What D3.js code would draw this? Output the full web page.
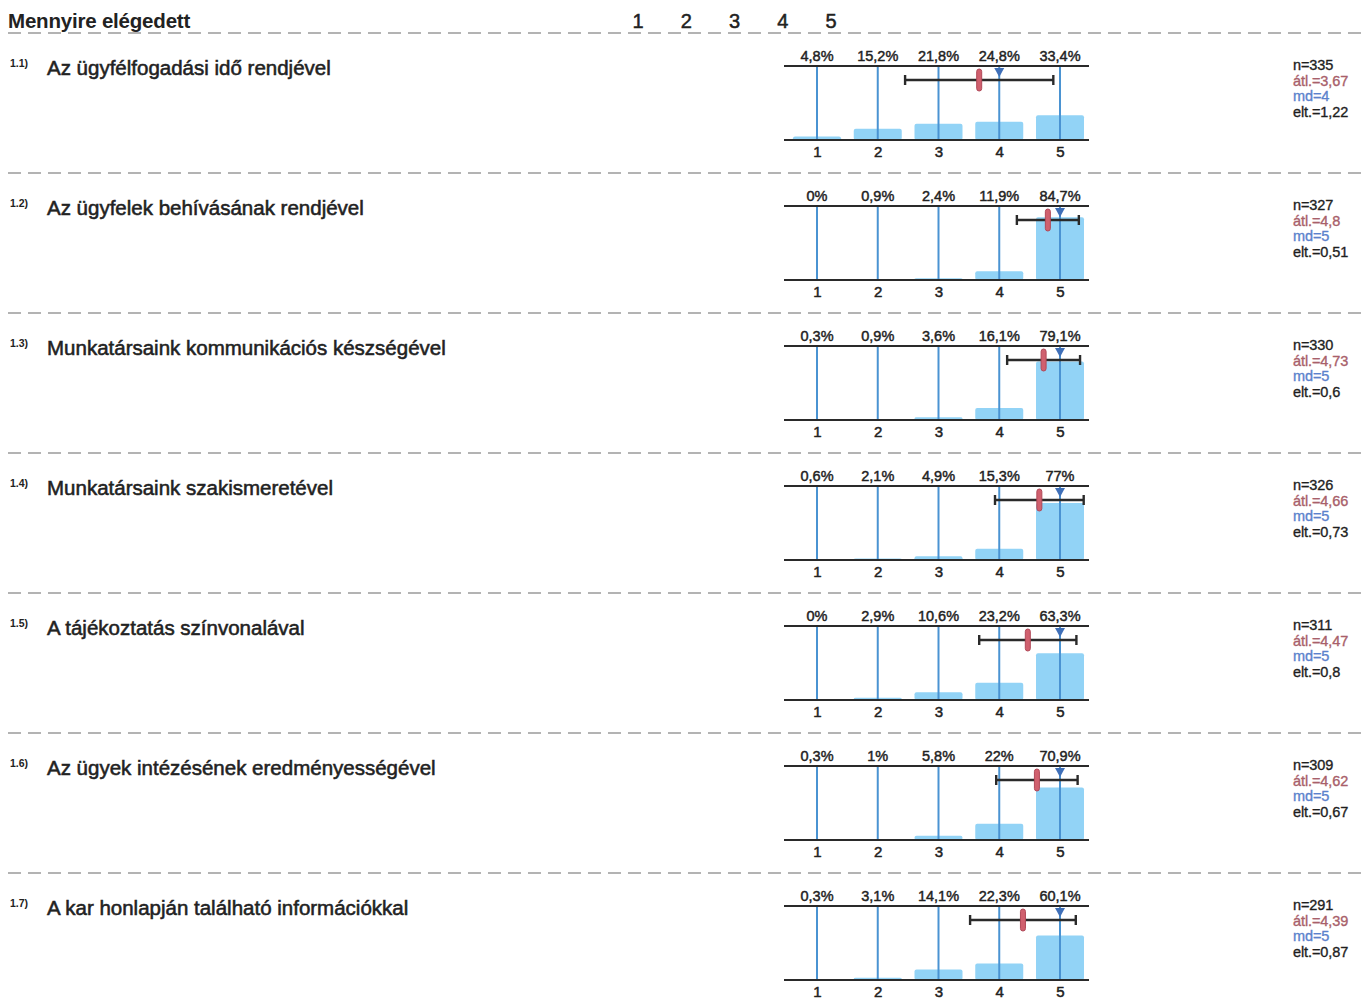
<!DOCTYPE html>
<html><head><meta charset="utf-8">
<script src="https://cdn.jsdelivr.net/npm/d3@7"></script>
<style>
body{margin:0;background:#fff;}
svg text{font-family:"Liberation Sans",Arial,sans-serif;}
</style></head>
<body><svg id="c" width="1369" height="1000"></svg>
<script>
const title = "Mennyire elégedett";
const scaleLabels = ["1","2","3","4","5"];
const codes = ["1.1)","1.2)","1.3)","1.4)","1.5)","1.6)","1.7)"];
const questions = [
  "Az ügyfélfogadási idő rendjével",
  "Az ügyfelek behívásának rendjével",
  "Munkatársaink kommunikációs készségével",
  "Munkatársaink szakismeretével",
  "A tájékoztatás színvonalával",
  "Az ügyek intézésének eredményességével",
  "A kar honlapján található információkkal"
];
const pct1 = [4.8,15.2,21.8,24.8,33.4];
const pct2 = [0,0.9,2.4,11.9,84.7];
const pct3 = [0.3,0.9,3.6,16.1,79.1];
const pct4 = [0.6,2.1,4.9,15.3,77];
const pct5 = [0,2.9,10.6,23.2,63.3];
const pct6 = [0.3,1,5.8,22,70.9];
const pct7 = [0.3,3.1,14.1,22.3,60.1];
const nVals = [335,327,330,326,311,309,291];
const means = [3.67,4.8,4.73,4.66,4.47,4.62,4.39];
const medians = [4,5,5,5,5,5,5];
const sds = [1.22,0.51,0.6,0.73,0.8,0.67,0.87];
const pcts = [pct1,pct2,pct3,pct4,pct5,pct6,pct7];

const svg = d3.select("#c");
const fmt = v => String(v).replace(".", ",");

// header
svg.append("text").attr("x",8).attr("y",28).attr("font-size",20.5).attr("font-weight","bold")
  .attr("letter-spacing",-0.2).attr("fill","#222").text(title);
const hx = d3.scalePoint().domain(scaleLabels).range([638,831]);
svg.selectAll(".hn").data(scaleLabels).enter().append("text")
  .attr("x",d=>hx(d)).attr("y",28).attr("text-anchor","middle").attr("font-size",20)
  .attr("fill","#222").attr("stroke","#222").attr("stroke-width",0.5).text(d=>d);

// separators
const sepY = d3.range(7).map(i=>33+140*i);
svg.selectAll(".sep").data(sepY).enter().append("line")
  .attr("x1",8).attr("x2",1366).attr("y1",d=>d).attr("y2",d=>d)
  .attr("stroke","#9a9a9a").attr("stroke-width",1.3).attr("stroke-dasharray","13,7");

const x = d3.scaleLinear().domain([1,5]).range([817,1060]);
const cats = [1,2,3,4,5];

pcts.forEach((p,i)=>{
  const off = 140*i;
  const top = 66+off, base = 140+off;
  const y = d3.scaleLinear().domain([0,100]).range([base, top]);
  const g = svg.append("g");

  g.append("text").attr("x",10).attr("y",67+off).attr("font-size",10.5).attr("font-weight","bold")
    .attr("fill","#222").text(codes[i]);
  g.append("text").attr("x",47).attr("y",75+off).attr("font-size",20.5)
    .attr("fill","#222").attr("stroke","#222").attr("stroke-width",0.55).text(questions[i]);

  // bars
  g.selectAll(".bar").data(cats).enter().append("rect")
    .attr("x",d=>x(d)-24).attr("width",48)
    .attr("y",(d,j)=>y(p[j])).attr("height",(d,j)=>base-y(p[j]))
    .attr("rx",2).attr("fill","#92d3f6");

  // vertical tick lines
  g.selectAll(".vl").data(cats).enter().append("line")
    .attr("x1",d=>x(d)).attr("x2",d=>x(d)).attr("y1",top).attr("y2",base)
    .attr("stroke","#4a93d2").attr("stroke-width",2);

  // top/bottom lines
  [top,base].forEach(yy=>g.append("line").attr("x1",784).attr("x2",1089)
    .attr("y1",yy).attr("y2",yy).attr("stroke","#2a2a2a").attr("stroke-width",2));

  // percent labels
  g.selectAll(".pl").data(cats).enter().append("text")
    .attr("x",d=>x(d)).attr("y",top-5).attr("text-anchor","middle").attr("font-size",14.5)
    .attr("fill","#222").attr("stroke","#222").attr("stroke-width",0.45)
    .text((d,j)=>fmt(p[j])+"%");

  // axis tick labels
  const ax = d3.axisBottom(x).tickValues(cats).tickSize(0).tickPadding(6).tickFormat(d3.format("d"));
  const axg = g.append("g").attr("transform",`translate(0,${base})`).call(ax);
  axg.select(".domain").remove();
  axg.selectAll("text").attr("font-size",15).attr("font-family","Liberation Sans, Arial")
    .attr("fill","#222").attr("stroke","#222").attr("stroke-width",0.5);

  // error bar mean ± sd
  const ey = top+14;
  const lo = x(means[i]-sds[i]), hi = x(means[i]+sds[i]);
  g.append("line").attr("x1",lo).attr("x2",hi).attr("y1",ey).attr("y2",ey)
    .attr("stroke","#2a2a2a").attr("stroke-width",2.6);
  [lo,hi].forEach(xx=>g.append("line").attr("x1",xx).attr("x2",xx).attr("y1",ey-5).attr("y2",ey+5)
    .attr("stroke","#2a2a2a").attr("stroke-width",2.4));

  // mean marker
  g.append("rect").attr("x",x(means[i])-2.5).attr("y",ey-11).attr("width",5).attr("height",22)
    .attr("rx",2.5).attr("fill","#d0606e").attr("stroke","#b04858").attr("stroke-width",1);

  // median triangle
  const mx = x(medians[i]);
  g.append("path").attr("d",`M${mx-5},${top+2}L${mx+5},${top+2}L${mx},${top+11}Z`)
    .attr("fill","#3f6fb8");

  // stats
  const st = [
    {t:"n="+nVals[i], c:"#1e1e1e"},
    {t:"átl.="+fmt(means[i]), c:"#a8606a"},
    {t:"md="+medians[i], c:"#5b82cc"},
    {t:"elt.="+fmt(sds[i]), c:"#1e1e1e"}
  ];
  g.selectAll(".st").data(st).enter().append("text")
    .attr("x",1293).attr("y",(d,k)=>70+off+k*15.5).attr("font-size",14.5)
    .attr("letter-spacing",-0.1).attr("fill",d=>d.c).attr("stroke",d=>d.c).attr("stroke-width",0.35)
    .text(d=>d.t);
});
</script></body></html>
